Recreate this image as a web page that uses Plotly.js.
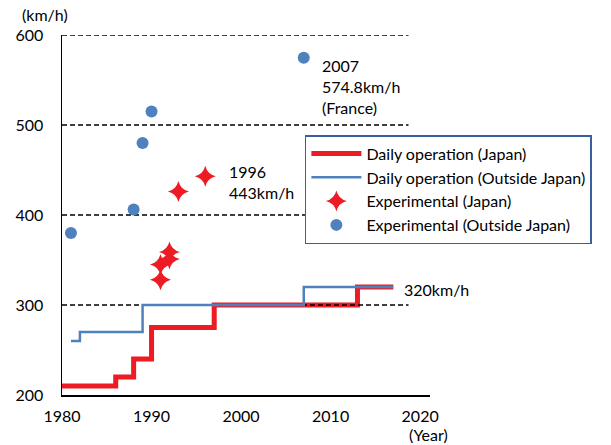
<!DOCTYPE html>
<html>
<head>
<meta charset="utf-8">
<script src="https://cdn.plot.ly/plotly-3.0.1.min.js"></script>
<style>html,body{margin:0;padding:0;background:#fff}#chart{width:611px;height:445px}</style>
</head>
<body>
<div id="chart"></div>
<script>
// Daily operation (Japan) - step line
const dailyJapanYear = [1980, 1986, 1988, 1990, 1997, 2013, 2017];
const dailyJapanSpeed = [210, 220, 240, 275, 300, 320, 320];
// Daily operation (Outside Japan) - step line
const dailyOutsideYear = [1981, 1982, 1989, 2007, 2017];
const dailyOutsideSpeed = [260, 270, 300, 320, 320];
// Experimental (Japan)
const expJapanYear = [1991, 1991, 1992, 1992, 1993, 1996];
const expJapanSpeed = [328, 345, 351, 359, 426, 443];
// Experimental (Outside Japan)
const expOutsideYear = [1981, 1988, 1989, 1990, 2007];
const expOutsideSpeed = [380, 406, 480, 515, 574.8];
// Axis ticks
const xTicks = [1980, 1990, 2000, 2010, 2020];
const yTicks = [200, 300, 400, 500, 600];
const gridLevels = [300, 400, 500, 600];
const gridEnd = 2018.7;

const FONT = 'Lato, "Open Sans", sans-serif';
const RED = 'rgb(237,28,36)';
const BLUE = 'rgb(79,129,189)';

// gridline trace built from the tick levels
const gx = [], gy = [];
gridLevels.forEach(v => { gx.push(xTicks[0], gridEnd, null); gy.push(v, v, null); });

const traces = [
  {x: dailyJapanYear, y: dailyJapanSpeed, mode: 'lines', line: {shape: 'hv', color: RED, width: 5},
   name: 'Daily operation (Japan)'},
  {x: gx, y: gy, mode: 'lines', line: {color: '#000', width: 1.3, dash: '5px,3px'}, showlegend: false,
   hoverinfo: 'skip'},
  {x: dailyOutsideYear, y: dailyOutsideSpeed, mode: 'lines', line: {shape: 'hv', color: BLUE, width: 2.5},
   name: 'Daily operation (Outside Japan)'},
  {x: expJapanYear, y: expJapanSpeed, mode: 'markers', marker: {symbol: 'star-diamond', size: 15, color: RED},
   name: 'Experimental (Japan)', cliponaxis: false},
  {x: expOutsideYear, y: expOutsideSpeed, mode: 'markers', marker: {symbol: 'circle', size: 12, color: BLUE},
   name: 'Experimental (Outside Japan)', cliponaxis: false}
];

const layout = {
  width: 611, height: 445,
  margin: {l: 62, r: 181, t: 35, b: 50},
  paper_bgcolor: '#fff', plot_bgcolor: '#fff',
  font: {family: FONT, size: 16, color: '#000'},
  showlegend: true,
  legend: {x: 0.66, y: 0.722, xanchor: 'left', yanchor: 'top', bgcolor: '#fff',
    bordercolor: '#3b5ea0', borderwidth: 1.5, font: {family: FONT, size: 16, color: '#000'},
    tracegroupgap: 0, itemwidth: 50},
  xaxis: {range: [1980, 2021.1], tickvals: xTicks, ticktext: xTicks.map(String), showgrid: false,
    zeroline: false, showline: true, linecolor: '#000', linewidth: 1.5, ticks: '', ticklabelstandoff: 6,
    tickfont: {family: FONT, size: 16}},
  yaxis: {range: [200, 600], tickvals: yTicks, ticktext: yTicks.map(String), showgrid: false,
    zeroline: false, showline: true, linecolor: '#000', linewidth: 1.5, ticks: '', ticklabelstandoff: 14,
    tickfont: {family: FONT, size: 16}},
  annotations: [
    {xref: 'paper', yref: 'paper', x: -0.114, y: 1.056, xanchor: 'left', yanchor: 'middle',
     text: '(km/h)', showarrow: false},
    {xref: 'paper', yref: 'paper', x: 0.9375, y: -0.111, xanchor: 'left', yanchor: 'middle',
     text: '(Year)', showarrow: false},
    {x: 1998.4, y: 437, xanchor: 'left', yanchor: 'middle', align: 'left',
     text: '1996<br>443km/h', showarrow: false},
    {x: 2008.8, y: 543, xanchor: 'left', yanchor: 'middle', align: 'left',
     text: '2007<br>574.8km/h<br>(France)', showarrow: false},
    {x: 2018.0, y: 317, xanchor: 'left', yanchor: 'middle', align: 'left',
     text: '320km/h', showarrow: false}
  ]
};

Plotly.newPlot('chart', traces, layout, {displayModeBar: false, staticPlot: true});
</script>
</body>
</html>
